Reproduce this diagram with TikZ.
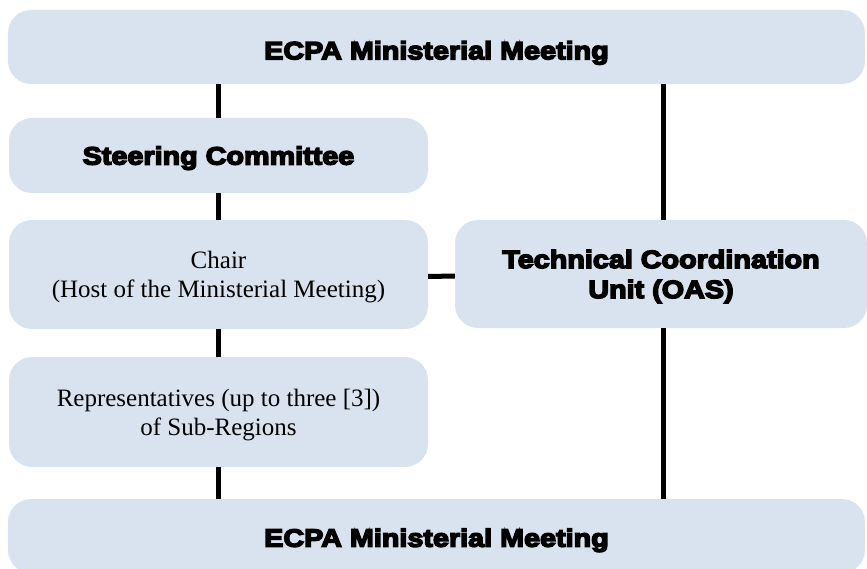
\documentclass[tikz,border=0pt]{standalone}
\usepackage{fontspec}
\setmainfont{Liberation Serif}
\newfontfamily\heavyfont[FakeStretch=1.15,FakeBold=6]{Liberation Sans Bold}
\definecolor{boxfill}{HTML}{D9E3EF}
\begin{document}
\begin{tikzpicture}[x=1pt,y=-1pt,
  orgbox/.style={fill=boxfill,rounded corners=23pt,inner sep=0pt,align=center},
  heavytext/.style={font=\heavyfont\fontsize{25}{30}\selectfont},
  plaintext/.style={font=\fontsize{25}{29}\selectfont},
  link/.style={line width=5pt,draw=black}]
\useasboundingbox (0,0) rectangle (867,569);
\clip (0,0) rectangle (867,569);

% boxes
\node[orgbox,heavytext,minimum width=857pt,minimum height=74pt,
      text height=24.6pt,text depth=0pt] (top) at (436.5,47) {ECPA Ministerial Meeting};
\node[orgbox,heavytext,minimum width=419pt,minimum height=75pt,
      text depth=0pt] (steer) at (218.5,155.5) {Steering Committee};
\node[orgbox,plaintext,minimum width=419pt,minimum height=109pt,
      text depth=0pt] (chair) at (218.5,274.5) {Chair\\(Host of the Ministerial Meeting)};
\node[orgbox,heavytext,minimum width=412pt,minimum height=108pt,
      text depth=0pt] (tcu) at (661,274) {Technical Coordination\\Unit (OAS)};
\node[orgbox,plaintext,minimum width=419pt,minimum height=110pt,
      text depth=0pt] (rep) at (218.5,412) {Representatives (up to three [3])\\of Sub-Regions};
\node[orgbox,heavytext,minimum width=857pt,minimum height=74pt,
      text height=21.4pt,text depth=0pt] (bot) at (436.5,536) {ECPA Ministerial Meeting};

% connectors
\draw[link] (steer.north |- top.south) -- (steer.north);
\draw[link] (steer.south) -- (chair.north);
\draw[link] (chair.south) -- (rep.north);
\draw[link] (rep.south) -- (rep.south |- bot.north);
\draw[link] ([xshift=2pt]tcu.north |- top.south) -- ([xshift=2pt]tcu.north);
\draw[link] ([xshift=2pt]tcu.south) -- ([xshift=2pt]tcu.south |- bot.north);
\draw[link] ([yshift=-2pt]chair.east) -- ([yshift=-2pt]tcu.west);
\end{tikzpicture}
\end{document}
